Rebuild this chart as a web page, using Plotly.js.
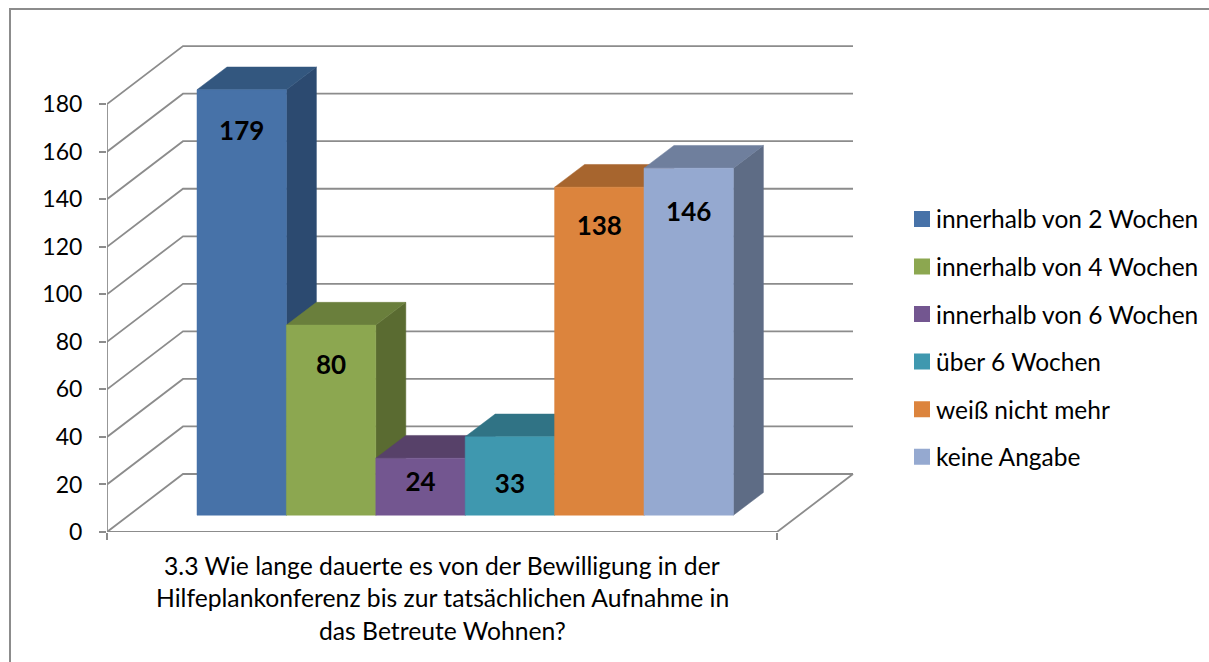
<!DOCTYPE html>
<html>
<head>
<meta charset="utf-8">
<script src="https://cdn.plot.ly/plotly-3.0.1.min.js"></script>
<style>html,body{margin:0;padding:0;background:#fff}</style>
</head>
<body>
<div id="chart" style="width:1209px;height:662px"></div>
<script>
// ---- data ----
var categories = ["innerhalb von 2 Wochen","innerhalb von 4 Wochen","innerhalb von 6 Wochen","über 6 Wochen","weiß nicht mehr","keine Angabe"];
var values = [179, 80, 24, 33, 138, 146];
var yTicks = [0,20,40,60,80,100,120,140,160,180];
var titleLines = ["3.3 Wie lange dauerte es von der Bewilligung in der","Hilfeplankonferenz bis zur tatsächlichen Aufnahme in","das Betreute Wohnen?"];

// ---- style ----
var frontColors = ["#4772A8","#8CA750","#735690","#3F98AF","#DC843D","#95A9D0"];
var topColors   = ["#33577F","#6A7F3C","#574169","#307385","#A7652E","#6F7F9D"];
var sideColors  = ["#2C4A70","#5A6B31","#4A3759","#296272","#8E5627","#5E6C85"];
var labelDropPx = [44, 42.5, 26.5, 49.8, 41.5, 46.5];
var gray = "#8C8C8C", font = "Lato, Carlito, sans-serif";

// ---- geometry (pixels → data units) ----
var L = 107, R = 340, T = 30, B = 130, W = 1209, H = 662;
var pxX = 89.4, pxY = 2.377;            // px per category, px per value
var plotW = W - L - R, plotH = H - T - B;
var x0 = (L - 241.7) / pxX;             // left of plot, bar 0 centred on 0
var xRight = (777 - 241.7) / pxX;       // right end of the front floor edge
var wallDX = 76 / pxX, wallDY = 58 / pxY;
var barDX = 30 / pxX, barDY = 22.7 / pxY, floorY = 16.8 / pxY;

var traces = [];
var poly = function (xs, ys, color) {
  traces.push({type:"scatter", mode:"lines", x:xs, y:ys, fill:"toself", fillcolor:color,
    line:{width:0.5, color:color}, showlegend:false, hoverinfo:"skip", cliponaxis:false});
};

// walls and floor
var wx = [], wy = [];
yTicks.forEach(function (v) {
  wx.push(x0, x0 + wallDX, xRight + wallDX, null);
  wy.push(v, v + wallDY, v + wallDY, null);
});
wx.push(x0, x0, null, x0, xRight, xRight + wallDX);
wy.push(0, yTicks[yTicks.length-1], null, 0, 0, wallDY);
traces.push({type:"scatter", mode:"lines", x:wx, y:wy, line:{color:gray, width:1.8},
  showlegend:false, hoverinfo:"skip", cliponaxis:false});

// bars, painted left to right: side, top, front
values.forEach(function (v, i) {
  var a = i - 0.5, b = i + 0.5, t = floorY + v;
  poly([b, b + barDX, b + barDX, b, b], [floorY, floorY + barDY, t + barDY, t, floorY], sideColors[i]);
  poly([a, a + barDX, b + barDX, b, a], [t, t + barDY, t + barDY, t, t], topColors[i]);
  poly([a, b, b, a, a], [floorY, floorY, t, t, floorY], frontColors[i]);
});

// data labels
traces.push({type:"scatter", mode:"text",
  x: values.map(function (v, i) { return i; }),
  y: values.map(function (v, i) { return floorY + v - labelDropPx[i] / pxY; }),
  text: values.map(String), textposition:"middle center",
  textfont:{family:font, size:26, color:"#000", weight:700},
  showlegend:false, hoverinfo:"skip", cliponaxis:false});

// legend entries
categories.forEach(function (c, i) {
  traces.push({type:"scatter", mode:"markers", x:[null], y:[null], name:c, legendgroup:"g"+i,
    marker:{symbol:"square", size:16, color:frontColors[i]}, hoverinfo:"skip"});
});

var annotations = titleLines.map(function (t, i) {
  return {text:t, xref:"x", yref:"paper", x:(442 - 241.7) / pxX, y:(H - B - (565 + i * 32.5) ) / plotH,
    xanchor:"center", yanchor:"middle", showarrow:false, font:{family:font, size:24.7, color:"#000"}};
});

var layout = {
  width:W, height:H, margin:{l:L, r:R, t:T, b:B, pad:0},
  paper_bgcolor:"#fff", plot_bgcolor:"rgba(0,0,0,0)",
  font:{family:font, color:"#000"},
  showlegend:true,
  legend:{xref:"container", yref:"container", x:896 / W, xanchor:"left", y:(H - 196.5) / H, yanchor:"top",
    font:{family:font, size:24.5, color:"#000"}, tracegroupgap:12.7, traceorder:"grouped",
    bgcolor:"rgba(0,0,0,0)", itemclick:false, itemdoubleclick:false},
  xaxis:{range:[x0, x0 + plotW / pxX], showgrid:false, zeroline:false, showline:false,
    tickmode:"array", tickvals:[x0, xRight], showticklabels:false,
    ticks:"outside", ticklen:7, tickwidth:2, tickcolor:gray},
  yaxis:{range:[0, plotH / pxY], showgrid:false, zeroline:false, showline:false,
    tickmode:"array", tickvals:yTicks, ticktext:yTicks.map(String),
    ticks:"outside", ticklen:7, tickwidth:2, tickcolor:gray, ticklabelstandoff:12,
    tickfont:{family:font, size:23, color:"#000"}},
  annotations:annotations,
  shapes:[{type:"rect", xref:"paper", yref:"paper",
    x0:(10 - L) / plotW, x1:(W + 20 - L) / plotW,
    y0:(H - B - (H + 20)) / plotH, y1:(H - B - 9) / plotH,
    line:{color:gray, width:2}, fillcolor:"rgba(0,0,0,0)", layer:"below"}]
};

Plotly.newPlot("chart", traces, layout, {displayModeBar:false, responsive:false}).then(function (gd) {
  gd.querySelectorAll(".legendsymbols").forEach(function (n) { n.setAttribute("transform", "translate(6,0)"); });
});
</script>
</body>
</html>
